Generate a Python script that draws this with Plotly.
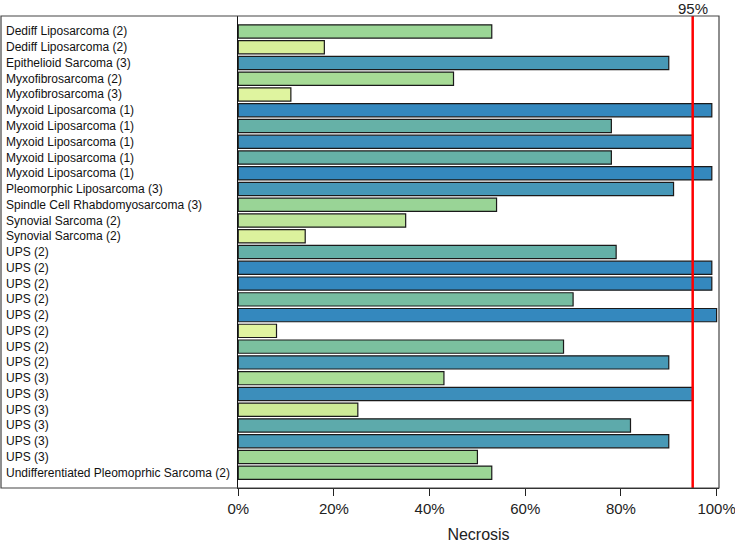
import plotly.graph_objects as go

labels = [
    "Dediff Liposarcoma (2)", "Dediff Liposarcoma (2)", "Epithelioid Sarcoma (3)",
    "Myxofibrosarcoma (2)", "Myxofibrosarcoma (3)",
    "Myxoid Liposarcoma (1)", "Myxoid Liposarcoma (1)", "Myxoid Liposarcoma (1)",
    "Myxoid Liposarcoma (1)", "Myxoid Liposarcoma (1)",
    "Pleomorphic Liposarcoma (3)", "Spindle Cell Rhabdomyosarcoma (3)",
    "Synovial Sarcoma (2)", "Synovial Sarcoma (2)",
    "UPS (2)", "UPS (2)", "UPS (2)", "UPS (2)", "UPS (2)", "UPS (2)", "UPS (2)", "UPS (2)",
    "UPS (3)", "UPS (3)", "UPS (3)", "UPS (3)", "UPS (3)", "UPS (3)",
    "Undifferentiated Pleomoprhic Sarcoma (2)",
]
necrosis = [53, 18, 90, 45, 11, 99, 78, 95, 78, 99, 91, 54, 35, 14,
            79, 99, 99, 70, 100, 8, 68, 90, 43, 95, 25, 82, 90, 50, 53]
threshold = 95
threshold_label = "95%"
x_ticks = [0, 20, 40, 60, 80, 100]
x_tick_labels = ["0%", "20%", "40%", "60%", "80%", "100%"]
x_title = "Necrosis"

positions = list(range(len(labels)))

colorscale = [
    [0.00, "rgb(226,245,162)"],
    [0.10, "rgb(224,244,160)"],
    [0.18, "rgb(216,240,154)"],
    [0.25, "rgb(205,235,151)"],
    [0.35, "rgb(189,229,154)"],
    [0.44, "rgb(168,220,150)"],
    [0.52, "rgb(157,215,149)"],
    [0.69, "rgb(121,191,160)"],
    [0.80, "rgb(98,174,168)"],
    [0.90, "rgb(72,153,182)"],
    [0.98, "rgb(52,136,190)"],
    [1.00, "rgb(52,136,190)"],
]

fig = go.Figure()
fig.add_trace(go.Bar(
    x=necrosis, y=positions, orientation="h", width=0.84,
    marker=dict(color=necrosis, colorscale=colorscale, cmin=0, cmax=100,
                line=dict(color="#1a1a1a", width=1.2)),
    hoverinfo="skip",
))

# threshold line
fig.add_shape(type="line", xref="x", yref="paper", x0=threshold, x1=threshold,
              y0=0, y1=1, line=dict(color="#ff0000", width=2.5), layer="above")
fig.add_annotation(x=threshold, y=1, xref="x", yref="paper", text=threshold_label,
                   showarrow=False, yanchor="bottom", yshift=-3,
                   font=dict(size=15, color="#222"))

# outer frame including label area
plot_w = 735 - 238 - 16
left_frac = -237.0 / plot_w
fig.add_shape(type="rect", xref="paper", yref="paper", x0=left_frac, x1=1, y0=0, y1=1,
              line=dict(color="#444", width=1.2), layer="above")

# left-aligned category labels
for p, lab in zip(positions, labels):
    fig.add_annotation(x=left_frac + 3.0 / plot_w, y=p, xref="paper", yref="y",
                       text=lab, showarrow=False, xanchor="left", yanchor="middle",
                       font=dict(size=12, color="#111"))

fig.update_layout(
    width=735, height=543, autosize=False,
    margin=dict(l=238, r=16, t=16, b=55, pad=0, autoexpand=False),
    paper_bgcolor="white", plot_bgcolor="white",
    font=dict(family="Liberation Sans, Arial, sans-serif", color="#222"),
    showlegend=False, hovermode=False,
    bargap=0,
)
fig.update_xaxes(
    range=[-0.05, 100.5], tickmode="array", tickvals=x_ticks, ticktext=x_tick_labels,
    ticks="outside", ticklen=7, tickcolor="#222", tickwidth=1,
    showline=True, linecolor="#222", linewidth=1, mirror=False,
    showgrid=False, zeroline=False, automargin=False, ticklabeloverflow="allow",
    tickfont=dict(size=15, color="#222"),
    title=dict(text=x_title, font=dict(size=16, color="#222"), standoff=19),
)
fig.update_yaxes(
    range=[28.97, -0.98], showticklabels=False, ticks="",
    showline=True, linecolor="#111", linewidth=1.2,
    showgrid=False, zeroline=False, automargin=False,
)

fig.write_html("out.html", config={"displayModeBar": False, "staticPlot": True},
               post_script="document.body.style.margin='0px';document.body.style.overflow='hidden';")
